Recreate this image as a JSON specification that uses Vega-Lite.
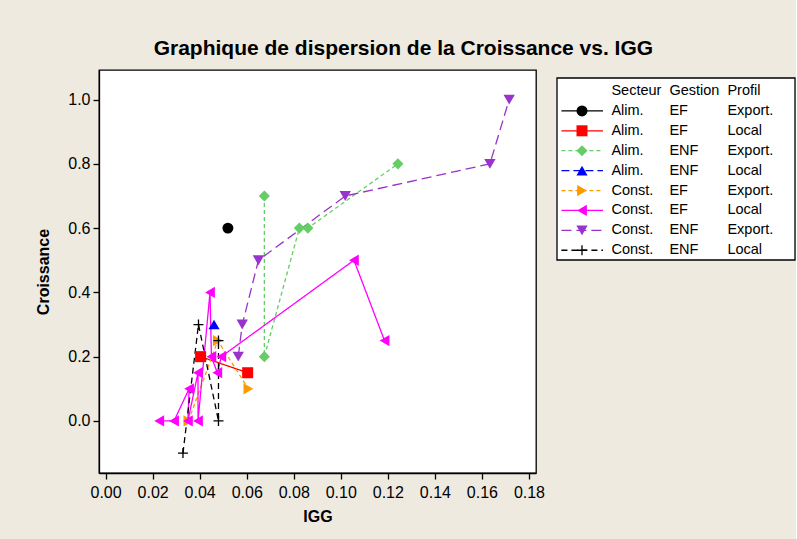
{
  "$schema": "https://vega.github.io/schema/vega-lite/v6.json",
  "background": "#EEEAE0",
  "padding": {"left": 35, "top": 38, "right": 0, "bottom": 22},
  "title": {"text": "Graphique de dispersion de la Croissance vs. IGG", "font": "Liberation Sans", "fontSize": 21, "fontWeight": "bold", "color": "black", "anchor": "middle", "offset": 10, "dx": -12},
  "datasets": {
    "pts": [
      {"s": "s1", "x": 0.052, "y": 0.6, "o": 1},
      {"s": "s2", "x": 0.0404, "y": 0.2, "o": 1},
      {"s": "s2", "x": 0.0604, "y": 0.15, "o": 2},
      {"s": "s3", "x": 0.0675, "y": 0.7, "o": 1},
      {"s": "s3", "x": 0.0675, "y": 0.2, "o": 2},
      {"s": "s3", "x": 0.0824, "y": 0.6, "o": 3},
      {"s": "s3", "x": 0.086, "y": 0.6, "o": 4},
      {"s": "s3", "x": 0.1243, "y": 0.8, "o": 5},
      {"s": "s4", "x": 0.0461, "y": 0.3, "o": 1},
      {"s": "s5", "x": 0.0352, "y": 0.0, "o": 1},
      {"s": "s5", "x": 0.0477, "y": 0.25, "o": 2},
      {"s": "s5", "x": 0.0607, "y": 0.1, "o": 3},
      {"s": "s6", "x": 0.0228, "y": 0.0, "o": 1},
      {"s": "s6", "x": 0.0291, "y": 0.0, "o": 2},
      {"s": "s6", "x": 0.0355, "y": 0.1, "o": 3},
      {"s": "s6", "x": 0.035, "y": 0.0, "o": 4},
      {"s": "s6", "x": 0.0393, "y": 0.15, "o": 5},
      {"s": "s6", "x": 0.0393, "y": 0.0, "o": 6},
      {"s": "s6", "x": 0.0444, "y": 0.4, "o": 7},
      {"s": "s6", "x": 0.045, "y": 0.2, "o": 8},
      {"s": "s6", "x": 0.0475, "y": 0.15, "o": 9},
      {"s": "s6", "x": 0.0492, "y": 0.2, "o": 10},
      {"s": "s6", "x": 0.1056, "y": 0.5, "o": 11},
      {"s": "s6", "x": 0.1186, "y": 0.25, "o": 12},
      {"s": "s7", "x": 0.0564, "y": 0.2, "o": 1},
      {"s": "s7", "x": 0.0581, "y": 0.3, "o": 2},
      {"s": "s7", "x": 0.065, "y": 0.5, "o": 3},
      {"s": "s7", "x": 0.1019, "y": 0.7, "o": 4},
      {"s": "s7", "x": 0.1634, "y": 0.8, "o": 5},
      {"s": "s7", "x": 0.1716, "y": 1.0, "o": 6},
      {"s": "s8", "x": 0.0329, "y": -0.1, "o": 1},
      {"s": "s8", "x": 0.0395, "y": 0.3, "o": 2},
      {"s": "s8", "x": 0.048, "y": 0.0, "o": 3},
      {"s": "s8", "x": 0.048, "y": 0.25, "o": 4}
    ],
    "leg": [
      {"s": "h", "r": 0, "a": "Secteur", "g": "Gestion", "p": "Profil"},
      {"s": "s1", "r": 1, "a": "Alim.", "g": "EF", "p": "Export."},
      {"s": "s2", "r": 2, "a": "Alim.", "g": "EF", "p": "Local"},
      {"s": "s3", "r": 3, "a": "Alim.", "g": "ENF", "p": "Export."},
      {"s": "s4", "r": 4, "a": "Alim.", "g": "ENF", "p": "Local"},
      {"s": "s5", "r": 5, "a": "Const.", "g": "EF", "p": "Export."},
      {"s": "s6", "r": 6, "a": "Const.", "g": "EF", "p": "Local"},
      {"s": "s7", "r": 7, "a": "Const.", "g": "ENF", "p": "Export."},
      {"s": "s8", "r": 8, "a": "Const.", "g": "ENF", "p": "Local"}
    ]
  },
  "spacing": 10,
  "hconcat": [
    {
      "width": 437,
      "height": 403,
      "view": {"fill": "white", "stroke": "black", "strokeWidth": 1.3},
      "data": {"name": "pts"},
      "encoding": {
        "x": {"field": "x", "type": "quantitative", "title": "IGG",
          "scale": {"domain": [-0.0028, 0.183], "nice": false, "zero": false},
          "axis": {"values": [0, 0.02, 0.04, 0.06, 0.08, 0.1, 0.12, 0.14, 0.16, 0.18], "format": ".2f", "labelFlush": false, "labelOverlap": false, "labelPadding": 5, "titlePadding": 8}},
        "y": {"field": "y", "type": "quantitative", "title": "Croissance",
          "scale": {"domain": [-0.162, 1.092], "nice": false, "zero": false},
          "axis": {"values": [0, 0.2, 0.4, 0.6, 0.8, 1.0], "format": ".1f", "labelPadding": 3, "titlePadding": 16}}
      },
      "layer": [
        {
          "mark": {"type": "line", "strokeWidth": 1.3},
          "encoding": {
            "color": {"field": "s", "type": "nominal", "legend": null,
              "scale": {"domain": ["s1", "s2", "s3", "s4", "s5", "s6", "s7", "s8"], "range": ["#000000", "#FF0000", "#66CC66", "#0000FF", "#FF9900", "#FF00FF", "#9933CC", "#000000"]}},
            "strokeDash": {"field": "s", "type": "nominal", "legend": null,
              "scale": {"domain": ["s1", "s2", "s3", "s4", "s5", "s6", "s7", "s8"], "range": [[1, 0], [1, 0], [4, 3], [8, 4], [4, 3], [1, 0], [10, 5], [6, 4]]}},
            "order": {"field": "o", "type": "quantitative"}
          }
        },
        {
          "transform": [{"filter": "datum.s != 's8'"}],
          "mark": {"type": "point", "filled": true, "opacity": 1},
          "encoding": {
            "color": {"field": "s", "type": "nominal", "legend": null},
            "size": {"field": "s", "type": "nominal", "legend": null,
              "scale": {"domain": ["s1", "s2", "s3", "s4", "s5", "s6", "s7", "s8"], "range": [120, 130, 130, 155, 155, 155, 155, 100]}},
            "shape": {"field": "s", "type": "nominal", "legend": null,
              "scale": {"domain": ["s1", "s2", "s3", "s4", "s5", "s6", "s7", "s8"], "range": ["circle", "square", "diamond", "triangle-up", "triangle-right", "triangle-left", "triangle-down", "M-1,0L1,0M0,-1L0,1"]}}
          }
        },
        {
          "transform": [{"filter": "datum.s == 's8'"}],
          "mark": {"type": "point", "filled": false, "opacity": 1, "size": 100, "shape": "M-1,0L1,0M0,-1L0,1", "strokeWidth": 1.3, "color": "black"}
        }
      ]
    },
    {
      "width": 238,
      "height": 190,
      "view": {"stroke": null},
      "encoding": {
        "x": {"type": "quantitative", "scale": {"domain": [0.062, 4.165], "nice": false, "zero": false}, "axis": null},
        "y": {"type": "quantitative", "scale": {"domain": [-1.055, 8.49], "nice": false, "zero": false, "reverse": true}, "axis": null}
      },
      "layer": [
        {
          "data": {"values": [{}]},
          "mark": {"type": "rect", "fill": "white", "stroke": "black", "strokeWidth": 1.3},
          "encoding": {
            "x": {"datum": 0.062, "type": "quantitative"},
            "x2": {"datum": 4.165},
            "y": {"datum": -0.653, "type": "quantitative"},
            "y2": {"datum": 8.49}
          }
        },
        {
          "data": {"name": "leg"},
          "transform": [{"filter": "datum.s != 'h'"}],
          "mark": {"type": "rule", "strokeWidth": 1.3},
          "encoding": {
            "x": {"datum": 0.138, "type": "quantitative"},
            "x2": {"datum": 0.855},
            "y": {"field": "r", "type": "quantitative"},
            "color": {"field": "s", "type": "nominal", "legend": null},
            "strokeDash": {"field": "s", "type": "nominal", "legend": null}
          }
        },
        {
          "data": {"name": "leg"},
          "transform": [{"filter": "datum.s != 'h' && datum.s != 's8'"}],
          "mark": {"type": "point", "filled": true, "opacity": 1},
          "encoding": {
            "x": {"datum": 0.493, "type": "quantitative"},
            "y": {"field": "r", "type": "quantitative"},
            "color": {"field": "s", "type": "nominal", "legend": null},
            "size": {"field": "s", "type": "nominal", "legend": null},
            "shape": {"field": "s", "type": "nominal", "legend": null}
          }
        },
        {
          "data": {"name": "leg"},
          "transform": [{"filter": "datum.s == 's8'"}],
          "mark": {"type": "point", "filled": false, "opacity": 1, "size": 100, "shape": "M-1,0L1,0M0,-1L0,1", "strokeWidth": 1.3, "color": "black"},
          "encoding": {
            "x": {"datum": 0.493, "type": "quantitative"},
            "y": {"field": "r", "type": "quantitative"}
          }
        },
        {
          "data": {"name": "leg"},
          "mark": {"type": "text", "align": "left", "baseline": "middle", "fontSize": 14.5, "font": "Liberation Sans", "color": "black"},
          "encoding": {
            "x": {"datum": 1, "type": "quantitative"},
            "y": {"field": "r", "type": "quantitative"},
            "text": {"field": "a"}
          }
        },
        {
          "data": {"name": "leg"},
          "mark": {"type": "text", "align": "left", "baseline": "middle", "fontSize": 14.5, "font": "Liberation Sans", "color": "black"},
          "encoding": {
            "x": {"datum": 2, "type": "quantitative"},
            "y": {"field": "r", "type": "quantitative"},
            "text": {"field": "g"}
          }
        },
        {
          "data": {"name": "leg"},
          "mark": {"type": "text", "align": "left", "baseline": "middle", "fontSize": 14.5, "font": "Liberation Sans", "color": "black"},
          "encoding": {
            "x": {"datum": 3, "type": "quantitative"},
            "y": {"field": "r", "type": "quantitative"},
            "text": {"field": "p"}
          }
        }
      ]
    }
  ],
  "resolve": {"scale": {"x": "independent", "y": "independent"}},
  "config": {
    "font": "Liberation Sans",
    "axis": {"domainColor": "black", "tickColor": "black", "labelColor": "black", "titleColor": "black", "grid": false, "labelFontSize": 16, "titleFontSize": 16, "titleFontWeight": "bold", "tickSize": 6, "domainWidth": 1.3, "tickWidth": 1.3, "labelFont": "Liberation Sans", "titleFont": "Liberation Sans"}
  }
}
